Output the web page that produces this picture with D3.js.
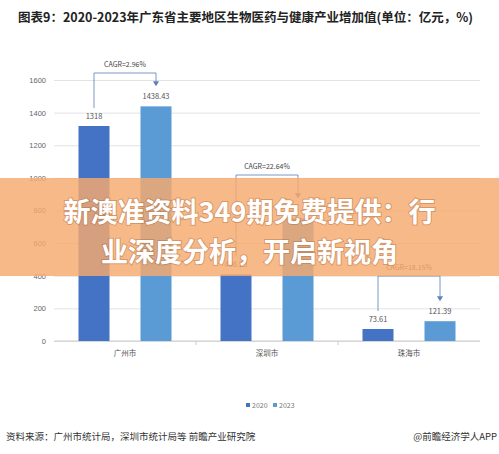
<!DOCTYPE html>
<html><head><meta charset="utf-8">
<script src="https://cdn.jsdelivr.net/npm/d3@7"></script>
<style>body{margin:0;background:#fff}svg{display:block;font-family:"Noto Sans CJK SC","Noto Sans",sans-serif}</style>
</head><body><svg id="chart"></svg>
<script>
let cities = ['广州市', '深圳市', '珠海市']
let series = ['2020', '2023']
let v2020 = [1318, 408.25, 73.61]
let v2023 = [1438.43, 753.1, 121.39]
let cagr = ['CAGR=2.96%', 'CAGR=22.64%', 'CAGR=18.15%']
let labels2023 = ['1438.43', '', '121.39']
let yTicks = [0, 200, 400, 600, 800, 1000, 1200, 1400, 1600]
let bracketY = [73, 175, 276]

let width = 499
let height = 454
let colors = ['#4472c4', '#5b9bd5']
let svg = d3.select('#chart').attr('width', width).attr('height', height)

let xScale = d3.scaleBand().domain(cities).range([54, 480])
let yScale = d3.scaleLinear().domain([0, 1600]).range([341, 80])
let barW = 31

svg.append('text').attr('x', 18).attr('y', 22).attr('font-size', 12.5).attr('font-weight', 'bold').attr('fill', '#222')
    .text('图表9：2020-2023年广东省主要地区生物医药与健康产业增加值(单位：亿元，%)')

let yAxis = d3.axisLeft(yScale).tickValues(yTicks).tickFormat(d3.format('d')).tickSize(-(480 - 54)).tickPadding(8)
let g = svg.append('g').attr('transform', 'translate(54,0)').call(yAxis)
g.select('.domain').remove()
g.selectAll('.tick line').attr('stroke', '#e3e3e3')
g.selectAll('.tick text').attr('fill', '#666').attr('font-size', 7.5)
svg.append('line').attr('x1', 54).attr('x2', 480).attr('y1', 341).attr('y2', 341).attr('stroke', '#ccc')
cities.slice(1).forEach(c => svg.append('line').attr('x1', xScale(c)).attr('x2', xScale(c)).attr('y1', 341).attr('y2', 345).attr('stroke', '#ccc'))

let cx = (c, s) => xScale(c) + xScale.bandwidth() / 2 + (s === '2020' ? -31 : 31)
let rows = [v2020, v2023]
series.forEach((s, si) => {
    svg.selectAll('.bar' + s).data(cities).enter().append('rect')
        .attr('x', c => cx(c, s) - barW / 2).attr('width', barW)
        .attr('y', (c, i) => yScale(rows[si][i]))
        .attr('height', (c, i) => 341 - yScale(rows[si][i]))
        .attr('fill', colors[si])
})
svg.selectAll('.lab20').data(cities).enter().append('text')
    .attr('x', c => cx(c, '2020')).attr('y', (c, i) => yScale(v2020[i]) - 7)
    .attr('text-anchor', 'middle').attr('font-size', 7.5).attr('fill', '#555').text((c, i) => v2020[i])
svg.selectAll('.lab23').data(cities).enter().append('text')
    .attr('x', c => cx(c, '2023')).attr('y', (c, i) => yScale(v2023[i]) - 7)
    .attr('text-anchor', 'middle').attr('font-size', 7.5).attr('fill', '#555').text((c, i) => labels2023[i])
svg.selectAll('.cat').data(cities).enter().append('text')
    .attr('x', c => xScale(c) + xScale.bandwidth() / 2).attr('y', 356)
    .attr('text-anchor', 'middle').attr('font-size', 7.5).attr('fill', '#555').text(c => c)

// CAGR brackets
let bc = '#5a7fb5'
cities.forEach((c, i) => {
    let x1 = cx(c, '2020'), x2 = cx(c, '2023'), by = bracketY[i]
    let y1 = yScale(v2020[i]) - 18, y2 = yScale(v2023[i]) - 20
    svg.append('path').attr('d', `M${x1},${y1}V${by}H${x2}V${y2 - 5}`).attr('fill', 'none').attr('stroke', bc).attr('stroke-width', 0.8)
    svg.append('path').attr('d', `M${x2 - 3},${y2 - 5}L${x2 + 3},${y2 - 5}L${x2},${y2}Z`).attr('fill', bc)
    svg.append('text').attr('x', (x1 + x2) / 2).attr('y', by - 6).attr('text-anchor', 'middle')
        .attr('font-size', 7).attr('fill', '#444').text(cagr[i])
})

// legend
let lg = svg.append('g').attr('transform', 'translate(246,407)')
series.forEach((s, i) => {
    lg.append('rect').attr('x', i * 27).attr('y', -4).attr('width', 4).attr('height', 4).attr('fill', colors[i])
    lg.append('text').attr('x', i * 27 + 6).attr('y', 0.5).attr('font-size', 7).attr('fill', '#777').text(s)
})

svg.append('text').attr('x', 6).attr('y', 440).attr('font-size', 9.5).attr('fill', '#333').text('资料来源：广州市统计局，深圳市统计局等 前瞻产业研究院')
svg.append('text').attr('x', 497).attr('y', 440).attr('text-anchor', 'end').attr('font-size', 9.5).attr('fill', '#333').text('@前瞻经济学人APP')

// banner overlay
svg.append('rect').attr('x', 0).attr('y', 178).attr('width', width).attr('height', 98).attr('fill', 'rgba(246,170,110,0.82)')
let bannerLines = ['新澳准资料349期免费提供：行', '业深度分析，开启新视角']
svg.selectAll('.ban').data(bannerLines).enter().append('text')
    .attr('x', width / 2).attr('y', (d, i) => 222 + i * 40).attr('text-anchor', 'middle')
    .attr('font-size', 27).attr('font-weight', 'bold').attr('fill', '#fff')
    .attr('style', 'paint-order:stroke;stroke:rgba(150,90,50,0.35);stroke-width:2px')
    .text(d => d)
</script></body></html>
